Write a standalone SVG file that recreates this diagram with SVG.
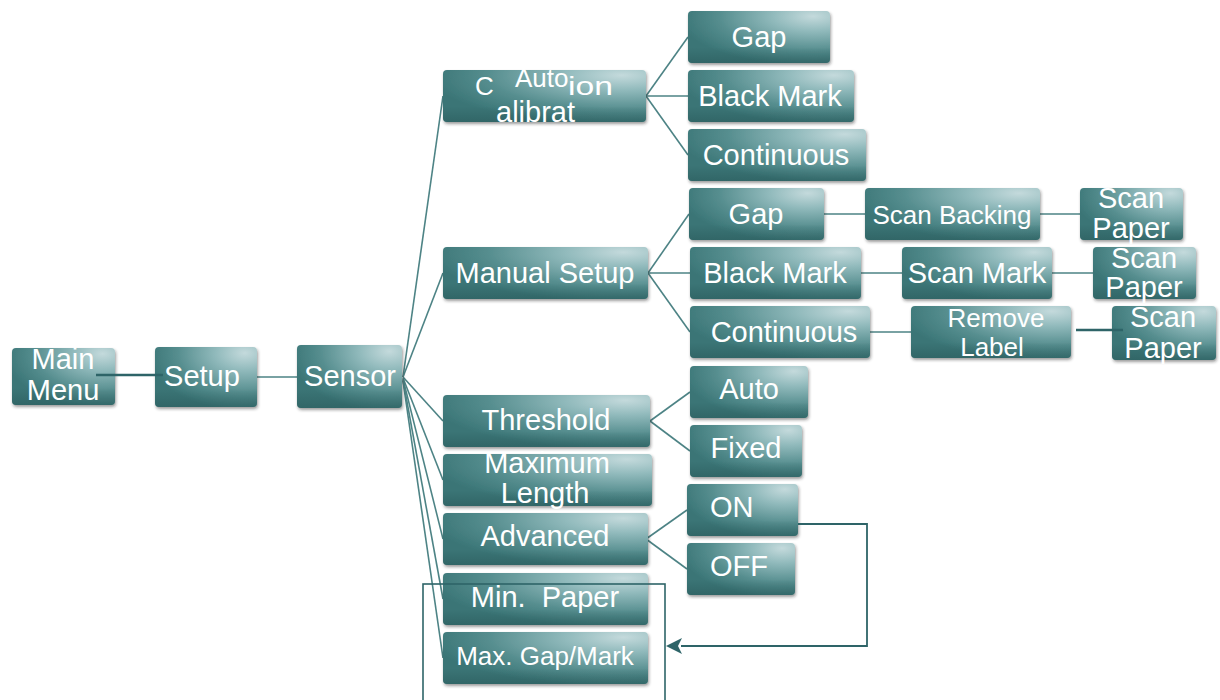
<svg xmlns="http://www.w3.org/2000/svg" width="1220" height="700" viewBox="0 0 1220 700">
<defs>
<radialGradient id="g" cx="0.88" cy="0.1" r="0.95" fx="0.88" fy="0.1">
<stop offset="0" stop-color="#c4dadc"/>
<stop offset="0.3" stop-color="#91babc"/>
<stop offset="0.7" stop-color="#558d8e"/>
<stop offset="1" stop-color="#3a7576"/>
</radialGradient>
<linearGradient id="sh" x1="0" y1="0" x2="0" y2="1">
<stop offset="0.7" stop-color="#1f4a4b" stop-opacity="0"/>
<stop offset="1" stop-color="#1f4a4b" stop-opacity="0.35"/>
</linearGradient>
<filter id="ds" x="-10%" y="-10%" width="120%" height="140%">
<feDropShadow dx="1" dy="2" stdDeviation="1.5" flood-color="#222" flood-opacity="0.45"/>
</filter>
</defs>
<style>
.n rect.b{fill:url(#g);filter:url(#ds)}
.n rect.s{fill:url(#sh)}
.n text{fill:#ffffff;font-family:"Liberation Sans",Arial,sans-serif;font-size:29px;text-anchor:middle}
.n text.sm{font-size:26px}
.n text.st{text-anchor:start}
.c line,.c polyline{stroke:#4d8385;stroke-width:1.6;fill:none}
.c .dk{stroke:#2e6468;stroke-width:2.6}
.frame{fill:none;stroke:#2e6468;stroke-width:1.6}
</style>

<g class="c" id="connectors">
<line x1="257" y1="377" x2="297" y2="377"/>
<line x1="403" y1="377" x2="443" y2="96"/>
<line x1="403" y1="377" x2="443" y2="273"/>
<line x1="403" y1="377" x2="443" y2="421"/>
<line x1="403" y1="378" x2="443" y2="480"/>
<line x1="403" y1="379" x2="443" y2="539"/>
<line x1="403" y1="380" x2="443" y2="599"/>
<line x1="403" y1="381" x2="443" y2="658"/>
<line x1="646" y1="96" x2="688" y2="37"/>
<line x1="646" y1="96" x2="688" y2="96"/>
<line x1="646" y1="96" x2="688" y2="155"/>
<line x1="648" y1="273" x2="689" y2="214"/>
<line x1="648" y1="273" x2="690" y2="273"/>
<line x1="648" y1="273" x2="690" y2="332"/>
<line x1="824" y1="214" x2="865" y2="214"/>
<line x1="1040" y1="214" x2="1080" y2="214"/>
<line x1="861" y1="273" x2="902" y2="273"/>
<line x1="1052" y1="273" x2="1093" y2="273"/>
<line x1="870" y1="332" x2="911" y2="332"/>
<line x1="650" y1="421" x2="690" y2="392"/>
<line x1="650" y1="421" x2="690" y2="451"/>
<line x1="646" y1="539" x2="687" y2="510"/>
<line x1="646" y1="539" x2="687" y2="569"/>
</g>

<g class="n" id="main-menu"><rect class="b" x="12" y="348" width="103" height="57" rx="4"/><rect class="s" x="12" y="348" width="103" height="57" rx="4"/><text x="63" y="369">Main</text><text x="63" y="400">Menu</text></g>
<g class="n" id="setup"><rect class="b" x="155" y="347" width="102" height="60" rx="4"/><rect class="s" x="155" y="347" width="102" height="60" rx="4"/><text x="202" y="386">Setup</text></g>
<g class="n" id="sensor"><rect class="b" x="297" y="345" width="105" height="63" rx="4"/><rect class="s" x="297" y="345" width="105" height="63" rx="4"/><text x="350" y="386">Sensor</text></g>

<g class="n" id="auto-calibration"><rect class="b" x="443" y="70" width="203" height="52" rx="4"/><rect class="s" x="443" y="70" width="203" height="52" rx="4"/>
<text class="sm st" x="475" y="95">C</text>
<text class="sm st" x="515" y="87">Auto</text>
<text class="sm st" x="568" y="95" textLength="45" lengthAdjust="spacingAndGlyphs">ion</text>
<text class="st" x="496" y="122">alibrat</text></g>
<g class="n" id="gap-1"><rect class="b" x="688" y="11" width="142" height="52" rx="4"/><rect class="s" x="688" y="11" width="142" height="52" rx="4"/><text x="759" y="47">Gap</text></g>
<g class="n" id="black-mark-1"><rect class="b" x="688" y="70" width="166" height="52" rx="4"/><rect class="s" x="688" y="70" width="166" height="52" rx="4"/><text x="770" y="106">Black Mark</text></g>
<g class="n" id="continuous-1"><rect class="b" x="688" y="129" width="178" height="52" rx="4"/><rect class="s" x="688" y="129" width="178" height="52" rx="4"/><text x="776" y="165">Continuous</text></g>

<g class="n" id="manual-setup"><rect class="b" x="443" y="247" width="205" height="52" rx="4"/><rect class="s" x="443" y="247" width="205" height="52" rx="4"/><text x="545" y="283">Manual Setup</text></g>
<g class="n" id="gap-2"><rect class="b" x="689" y="188" width="135" height="52" rx="4"/><rect class="s" x="689" y="188" width="135" height="52" rx="4"/><text x="756" y="224">Gap</text></g>
<g class="n" id="scan-backing"><rect class="b" x="865" y="188" width="175" height="52" rx="4"/><rect class="s" x="865" y="188" width="175" height="52" rx="4"/><text class="sm" x="952" y="224">Scan Backing</text></g>
<g class="n" id="scan-paper-1"><rect class="b" x="1080" y="188" width="103" height="52" rx="4"/><rect class="s" x="1080" y="188" width="103" height="52" rx="4"/><text x="1131" y="208">Scan</text><text x="1131" y="238">Paper</text></g>
<g class="n" id="black-mark-2"><rect class="b" x="690" y="247" width="171" height="52" rx="4"/><rect class="s" x="690" y="247" width="171" height="52" rx="4"/><text x="775" y="283">Black Mark</text></g>
<g class="n" id="scan-mark"><rect class="b" x="902" y="247" width="150" height="52" rx="4"/><rect class="s" x="902" y="247" width="150" height="52" rx="4"/><text x="977" y="283">Scan Mark</text></g>
<g class="n" id="scan-paper-2"><rect class="b" x="1093" y="247" width="103" height="52" rx="4"/><rect class="s" x="1093" y="247" width="103" height="52" rx="4"/><text x="1144" y="268">Scan</text><text x="1144" y="297">Paper</text></g>
<g class="n" id="continuous-2"><rect class="b" x="690" y="306" width="180" height="52" rx="4"/><rect class="s" x="690" y="306" width="180" height="52" rx="4"/><text x="784" y="342">Continuous</text></g>
<g class="n" id="remove-label"><rect class="b" x="911" y="306" width="160" height="52" rx="4"/><rect class="s" x="911" y="306" width="160" height="52" rx="4"/><text class="sm" x="996" y="327">Remove</text><text class="sm" x="992" y="356">Label</text></g>
<g class="n" id="scan-paper-3"><rect class="b" x="1112" y="306" width="104" height="54" rx="4"/><rect class="s" x="1112" y="306" width="104" height="54" rx="4"/><text x="1163" y="327">Scan</text><text x="1163" y="358">Paper</text></g>

<g class="n" id="threshold"><rect class="b" x="443" y="395" width="207" height="52" rx="4"/><rect class="s" x="443" y="395" width="207" height="52" rx="4"/><text x="546" y="430">Threshold</text></g>
<g class="n" id="auto"><rect class="b" x="690" y="366" width="118" height="52" rx="4"/><rect class="s" x="690" y="366" width="118" height="52" rx="4"/><text x="749" y="399">Auto</text></g>
<g class="n" id="fixed"><rect class="b" x="690" y="425" width="112" height="52" rx="4"/><rect class="s" x="690" y="425" width="112" height="52" rx="4"/><text x="746" y="458">Fixed</text></g>
<g class="n" id="maximum-length"><rect class="b" x="443" y="454" width="209" height="52" rx="4"/><rect class="s" x="443" y="454" width="209" height="52" rx="4"/><text x="547" y="473">Maximum</text><text x="545" y="503">Length</text></g>
<g class="n" id="on"><rect class="b" x="687" y="484" width="111" height="52" rx="4"/><rect class="s" x="687" y="484" width="111" height="52" rx="4"/><text class="st" x="710" y="517">ON</text></g>
<g class="n" id="off"><rect class="b" x="687" y="543" width="108" height="52" rx="4"/><rect class="s" x="687" y="543" width="108" height="52" rx="4"/><text class="st" x="710" y="576">OFF</text></g>
<g class="n" id="advanced"><rect class="b" x="443" y="513" width="205" height="52" rx="4"/><rect class="s" x="443" y="513" width="205" height="52" rx="4"/><text x="545" y="546">Advanced</text></g>
<g class="n" id="min-paper"><rect class="b" x="443" y="573" width="205" height="52" rx="4"/><rect class="s" x="443" y="573" width="205" height="52" rx="4"/><text x="545" y="607" xml:space="preserve">Min.  Paper</text></g>
<g class="n" id="max-gap-mark"><rect class="b" x="443" y="632" width="205" height="52" rx="4"/><rect class="s" x="443" y="632" width="205" height="52" rx="4"/><text class="sm" x="545" y="665">Max. Gap/Mark</text></g>

<g class="c" id="overlay-connectors">
<line class="dk" x1="96" y1="375" x2="163" y2="375"/>
<line class="dk" x1="1076" y1="330" x2="1123" y2="330"/>
<rect class="frame" x="423" y="584" width="242" height="130"/>
<polyline points="798,524 867,524 867,646 681,646" style="stroke:#2e6468;stroke-width:1.8"/>
<path d="M666,646 L682,638 L678,646 L682,654 Z" fill="#2e6468"/>
</g>
</svg>
